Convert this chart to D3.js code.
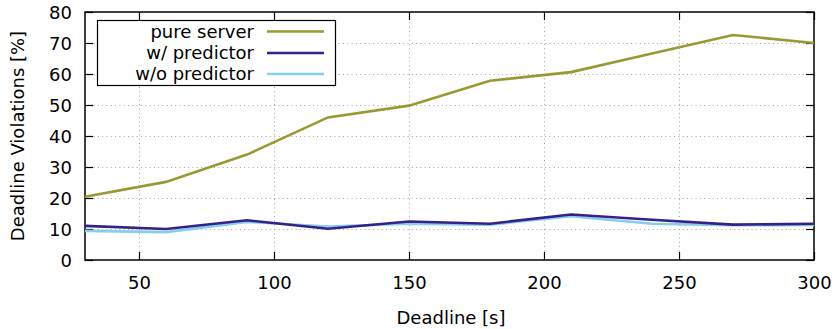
<!DOCTYPE html>
<html>
<head>
<meta charset="utf-8">
<script src="https://cdn.jsdelivr.net/npm/d3@7"></script>
<style>
	body { margin: 0; background: #fff; }
	svg { font-family: "DejaVu Sans", sans-serif; }
</style>
</head>
<body>
<div id="chart"></div>
<script>
// deadlines in seconds
var deadlines = [30, 60, 90, 120, 150, 180, 210, 240, 270, 300];

// deadline violations in percent
var pureServer   = [20.4, 25.2, 34.0, 46.0, 49.8, 57.8, 60.6, 66.6, 72.6, 70.0];
var withPred     = [11.0, 10.0, 12.8, 10.1, 12.4, 11.7, 14.7, 13.0, 11.4, 11.7];
var withoutPred  = [9.4,  9.0,  12.3, 10.8, 11.7, 11.4, 14.1, 11.7, 11.2, 11.3];

var seriesNames  = ["pure server", "w/ predictor", "w/o predictor"];
var seriesColors = ["#999933", "#332288", "#88ccee"];

var xTicks = [50, 100, 150, 200, 250, 300];
var yTicks = [0, 10, 20, 30, 40, 50, 60, 70, 80];

var width = 838, height = 329;
var margin = {left: 85, right: 24, top: 12, bottom: 69};

var svg = d3.select("#chart").append("svg")
	.attr("width", width)
	.attr("height", height);

var x = d3.scaleLinear().domain([30, 300]).range([margin.left, width - margin.right]);
var y = d3.scaleLinear().domain([0, 80]).range([height - margin.bottom, margin.top]);

var fontSize = 18;

// grid
var grid = svg.append("g").attr("class", "grid")
	.attr("stroke", "#a0a0a0")
	.attr("stroke-width", 1)
	.attr("stroke-dasharray", "1,3.3");

grid.selectAll(".gy")
	.data(yTicks.filter(function(d){ return d > 0 && d < 80; }))
	.enter().append("line")
		.attr("x1", x(30)).attr("x2", x(300))
		.attr("y1", function(d){ return Math.round(y(d)) + 0.5; })
		.attr("y2", function(d){ return Math.round(y(d)) + 0.5; });

grid.selectAll(".gx")
	.data(xTicks.filter(function(d){ return d < 300; }))
	.enter().append("line")
		.attr("y1", y(0)).attr("y2", y(80))
		.attr("x1", function(d){ return Math.round(x(d)) + 0.5; })
		.attr("x2", function(d){ return Math.round(x(d)) + 0.5; });

// axes, ticks pointing inward like gnuplot
var tickLen = 8;

var axisBottom = svg.append("g")
	.attr("transform", "translate(0," + y(0) + ")")
	.call(d3.axisBottom(x).tickValues(xTicks).tickSize(-tickLen).tickPadding(16));
var axisTop = svg.append("g")
	.attr("transform", "translate(0," + y(80) + ")")
	.call(d3.axisTop(x).tickValues(xTicks).tickSize(-tickLen).tickFormat(""));
var axisLeft = svg.append("g")
	.attr("transform", "translate(" + x(30) + ",0)")
	.call(d3.axisLeft(y).tickValues(yTicks).tickSize(-tickLen).tickPadding(13));
var axisRight = svg.append("g")
	.attr("transform", "translate(" + x(300) + ",0)")
	.call(d3.axisRight(y).tickValues(yTicks).tickSize(-tickLen).tickFormat(""));

[axisBottom, axisTop, axisLeft, axisRight].forEach(function(a)
{
	a.select(".domain").remove();
	a.selectAll("line").attr("stroke", "#000").attr("stroke-width", 1.2);
	a.selectAll("text")
		.attr("fill", "#000")
		.style("font-size", fontSize + "px")
		.style("font-family", "DejaVu Sans");
});
axisLeft.selectAll("text").attr("dy", "0.38em");

// frame
svg.append("rect")
	.attr("x", x(30)).attr("y", y(80))
	.attr("width", x(300) - x(30))
	.attr("height", y(0) - y(80))
	.attr("fill", "none")
	.attr("stroke", "#000")
	.attr("stroke-width", 1.5);

// lines
var allSeries = [pureServer, withPred, withoutPred];
var line = d3.line()
	.x(function(d, i){ return x(deadlines[i]); })
	.y(function(d){ return y(d); });

// draw light series first, dark on top, olive last
[2, 1, 0].forEach(function(k)
{
	svg.append("path")
		.datum(allSeries[k])
		.attr("fill", "none")
		.attr("stroke", seriesColors[k])
		.attr("stroke-width", 2.6)
		.attr("stroke-linejoin", "miter")
		.attr("d", line);
});

// legend
var legend = svg.append("g").attr("class", "legend");
legend.append("rect")
	.attr("x", 97.5).attr("y", 20.5)
	.attr("width", 238).attr("height", 65)
	.attr("fill", "#fff")
	.attr("stroke", "#000")
	.attr("stroke-width", 1.2);

var rowY = [31.5, 53, 74];
seriesNames.forEach(function(name, i)
{
	legend.append("text")
		.attr("x", 254).attr("y", rowY[i])
		.attr("dy", "0.35em")
		.attr("text-anchor", "end")
		.style("font-size", fontSize + "px")
		.text(name);
	legend.append("line")
		.attr("x1", 267).attr("x2", 324)
		.attr("y1", rowY[i]).attr("y2", rowY[i])
		.attr("stroke", seriesColors[i])
		.attr("stroke-width", 2.6);
});

// axis titles
svg.append("text")
	.attr("x", 451).attr("y", 324)
	.attr("text-anchor", "middle")
	.style("font-size", fontSize + "px")
	.text("Deadline [s]");

svg.append("text")
	.attr("transform", "translate(23.5,136) rotate(-90)")
	.attr("text-anchor", "middle")
	.style("font-size", fontSize + "px")
	.text("Deadline Violations [%]");
</script>
</body>
</html>
